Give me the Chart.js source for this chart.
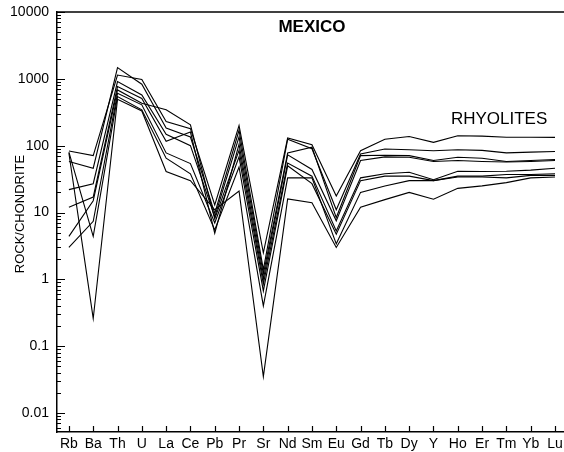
<!DOCTYPE html>
<html>
<head>
<meta charset="utf-8">
<script src="https://cdn.jsdelivr.net/npm/chart.js@4/dist/chart.umd.min.js"></script>
<style>
  html, body { margin: 0; padding: 0; background: #fff; }
  #wrap { width: 564px; height: 452px; }
</style>
</head>
<body>
<div id="wrap"><canvas id="chart" width="564" height="452"></canvas></div>
<script>
// elementos normalizados a condrita
const ELEMENTOS = ['Rb','Ba','Th','U','La','Ce','Pb','Pr','Sr','Nd','Sm','Eu','Gd','Tb','Dy','Y','Ho','Er','Tm','Yb','Lu'];

// muestras de riolitas (roca/condrita)
const muestraA = [83, 71, 1140, 980, 230, 180, 13, 200, 2.5, 130, 103, 17.6, 84, 125, 137, 112, 141, 139, 134, 134, 133];
const muestraB = [58, 46, 1470, 830, 183, 135, 9.7, 170, 1.4, 125, 90, 11, 75, 89, 87, 84, 87, 85, 78, 80, 82];
const muestraC = [22, 27, 910, 575, 148, 100, 8.6, 135, 1.2, 78, 95, 8.4, 71, 72, 71, 60, 67, 65, 58, 60, 62];
const muestraD = [12, 17, 765, 510, 116, 160, 4.9, 105, 1.0, 73, 44, 7.5, 60, 68, 67, 58, 60, 58, 57, 58, 60];
const muestraE = [4.4, 15, 682, 431, 344, 205, 8, 85, 0.85, 55, 35, 5.3, 33, 38, 40, 31, 41.5, 41, 41.5, 43, 46];
const muestraF = [3.0, 7.4, 606, 408, 78, 54, 7, 68, 0.67, 50, 27, 4.75, 30, 35, 35, 30, 35, 35, 37, 37, 38];
const muestraG = [80, 4.4, 542, 344, 65, 38, 5.5, 48, 0.4, 33, 33, 3.4, 20, 25, 30, 30, 34, 34, 33, 36, 36];
const muestraH = [77, 0.26, 495, 330, 41, 30, 11, 21, 0.035, 16, 14, 3.0, 12, 15.6, 20, 15.8, 23, 25, 28, 33, 34];

const MUESTRAS = [muestraA, muestraB, muestraC, muestraD, muestraE, muestraF, muestraG, muestraH];
const DECADAS = [0.01, 0.1, 1, 10, 100, 1000, 10000];

const FUENTE = '"Liberation Sans", Arial, sans-serif';

// marcas de escala hacia dentro, borde superior y rótulos
const extras = {
  id: 'extras',
  afterDraw(chart) {
    const { ctx, chartArea: a, scales: { x, y } } = chart;
    ctx.save();
    ctx.strokeStyle = '#000';
    ctx.lineWidth = 1.5;
    ctx.beginPath();
    ctx.moveTo(a.left, a.top);
    ctx.lineTo(a.right, a.top);
    ctx.stroke();

    ctx.lineWidth = 1.2;
    ctx.beginPath();
    // eje Y: décadas y subdivisiones
    for (let d = 0.001; d <= 10000; d *= 10) {
      for (let k = 1; k <= 9; k++) {
        const v = d * k;
        if (v < y.min || v > y.max) continue;
        const py = Math.round(y.getPixelForValue(v)) + 0.5;
        const largo = k === 1 ? 8 : 4;
        ctx.moveTo(a.left, py);
        ctx.lineTo(a.left + largo, py);
      }
    }
    // eje X
    ELEMENTOS.forEach((_, i) => {
      const px = Math.round(x.getPixelForValue(i)) + 0.5;
      ctx.moveTo(px, a.bottom);
      ctx.lineTo(px, a.bottom - 6);
    });
    ctx.stroke();

    ctx.fillStyle = '#000';
    ctx.textAlign = 'center';
    ctx.textBaseline = 'middle';
    ctx.font = 'bold 17px ' + FUENTE;
    ctx.fillText('MEXICO', x.getPixelForValue(10), a.top + 15);
    ctx.font = '17px ' + FUENTE;
    ctx.fillText('RHYOLITES', x.getPixelForValue(17.7), y.getPixelForValue(245));

    // título del eje Y
    ctx.font = '13px ' + FUENTE;
    ctx.translate(20, 214);
    ctx.rotate(-Math.PI / 2);
    ctx.fillText('ROCK/CHONDRITE', 0, 0);
    ctx.restore();
  }
};

new Chart(document.getElementById('chart'), {
  type: 'line',
  data: {
    labels: ELEMENTOS,
    datasets: MUESTRAS.map((m, i) => ({
      label: 'M' + (i + 1),
      data: m.map((v, j) => ({ x: j, y: v })),
      borderColor: '#000',
      borderWidth: 1.1,
      pointRadius: 0,
      tension: 0,
      fill: false
    }))
  },
  options: {
    responsive: false,
    animation: false,
    layout: { padding: { top: 12, right: 0, bottom: 0, left: 0 } },
    plugins: { legend: { display: false }, tooltip: { enabled: false } },
    scales: {
      x: {
        type: 'linear',
        min: -0.49,
        max: 20.37,
        grid: { display: false, drawTicks: false },
        border: { display: true, color: '#000', width: 1.5 },
        afterBuildTicks: s => { s.ticks = ELEMENTOS.map((_, i) => ({ value: i })); },
        afterFit: s => { s.height = 20; s.paddingLeft = 0; s.paddingRight = 0; },
        ticks: {
          autoSkip: false,
          maxRotation: 0,
          padding: 4,
          color: '#000',
          font: { family: FUENTE, size: 14 },
          callback: v => ELEMENTOS[v] ?? ''
        }
      },
      y: {
        type: 'logarithmic',
        min: 0.0052,
        max: 10000,
        grid: { display: false, drawTicks: false },
        border: { display: true, color: '#000', width: 1.5 },
        afterBuildTicks: s => { s.ticks = DECADAS.map(v => ({ value: v })); },
        afterFit: s => { s.width = 57; s.paddingTop = 0; s.paddingBottom = 0; },
        ticks: {
          autoSkip: false,
          padding: 8,
          color: '#000',
          font: { family: FUENTE, size: 14 },
          callback: v => String(v)
        }
      }
    }
  },
  plugins: [extras]
});
</script>
</body>
</html>
